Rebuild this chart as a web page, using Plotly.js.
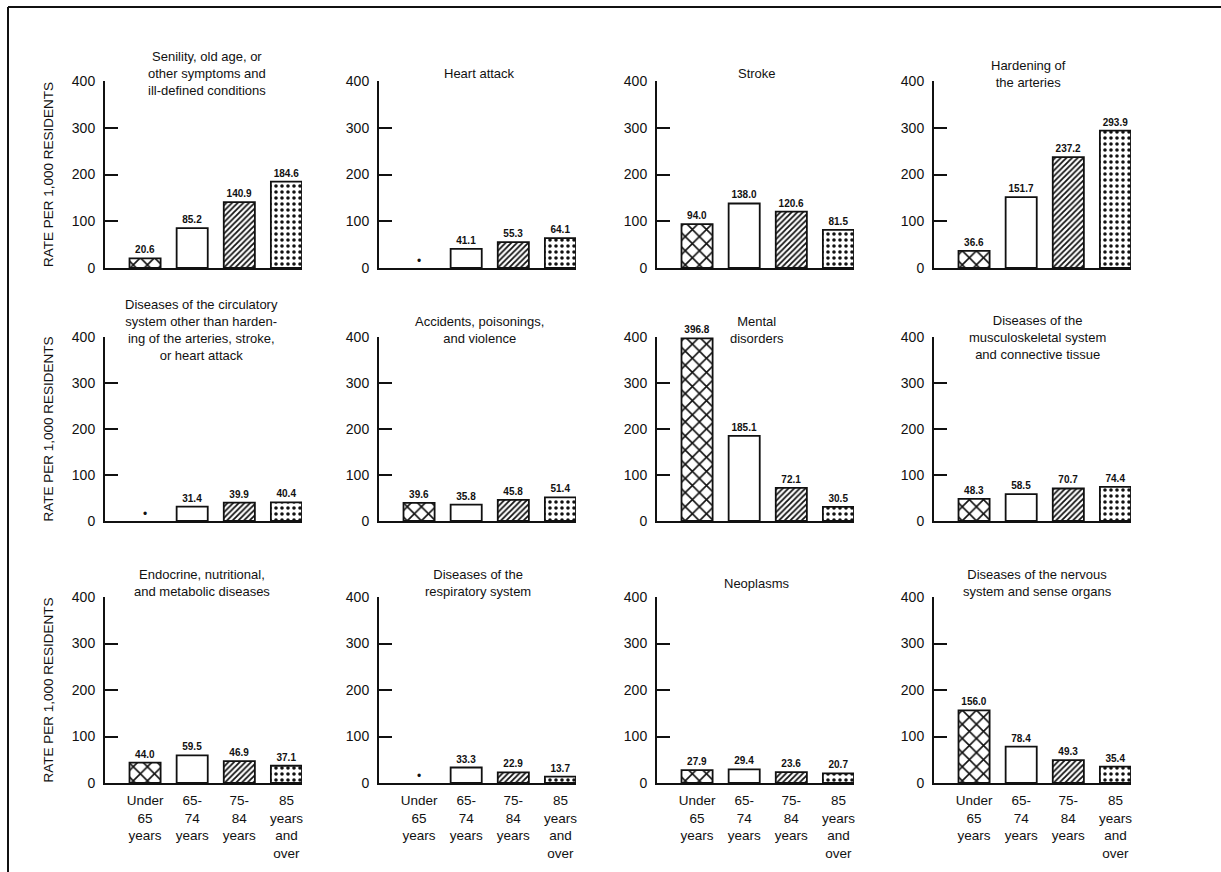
<!DOCTYPE html>
<html><head><meta charset="utf-8">
<script src="https://cdn.plot.ly/plotly-3.0.1.min.js"></script>
<style>html,body{margin:0;padding:0;background:#fff}#chart{width:1221px;height:872px}</style>
</head><body><div id="chart"></div>
<script>
// ---- data ----
const categories = ["Under 65 years", "65-74 years", "75-84 years", "85 years and over"];
const tickLabels = ["Under<br>65<br>years", "65-<br>74<br>years", "75-<br>84<br>years", "85<br>years<br>and<br>over"];
const yTicks = [0, 100, 200, 300, 400];
const yTitle = "RATE PER 1,000 RESIDENTS";

const panelTitles = [
  "Senility, old age, or<br>other symptoms and<br>ill-defined conditions",
  "Heart attack",
  "Stroke",
  "Hardening of<br>the arteries",
  "Diseases of the circulatory<br>system other than harden-<br>ing of the arteries, stroke,<br>or heart attack",
  "Accidents, poisonings,<br>and violence",
  "Mental<br>disorders",
  "Diseases of the<br>musculoskeletal system<br>and connective tissue",
  "Endocrine, nutritional,<br>and metabolic diseases",
  "Diseases of the<br>respiratory system",
  "Neoplasms",
  "Diseases of the nervous<br>system and sense organs"
];

const senility        = [20.6, 85.2, 140.9, 184.6];
const heartAttack     = [null, 41.1, 55.3, 64.1];
const stroke          = [94.0, 138.0, 120.6, 81.5];
const hardening       = [36.6, 151.7, 237.2, 293.9];
const circulatoryOther= [null, 31.4, 39.9, 40.4];
const accidents       = [39.6, 35.8, 45.8, 51.4];
const mentalDisorders = [396.8, 185.1, 72.1, 30.5];
const musculoskeletal = [48.3, 58.5, 70.7, 74.4];
const endocrine       = [44.0, 59.5, 46.9, 37.1];
const respiratory     = [null, 33.3, 22.9, 13.7];
const neoplasms       = [27.9, 29.4, 23.6, 20.7];
const nervous         = [156.0, 78.4, 49.3, 35.4];

const panelValues = [senility, heartAttack, stroke, hardening,
  circulatoryOther, accidents, mentalDisorders, musculoskeletal,
  endocrine, respiratory, neoplasms, nervous];

// ---- layout geometry (pixels) ----
const W = 1221, H = 872;
const colAxisX = [105, 379, 657, 934];
const plotW = 197;
const rowBase = [268, 521, 783];
const rowTop = [81, 337, 597];
const titleCY = [73.5, 73, 73, 74, 330, 329.5, 329.5, 337, 582.5, 582.5, 583, 582.5];
const titleCX = [207, 480, 757, 1028, 201, 480, 757, 1037, 202, 478, 757, 1037];

const FONT = "Liberation Sans, Arial, sans-serif";
const INK = "#111";

const patShape = ["x", "", "/", "."];
const patSize = [10, 8, 4, 6];
const patSolid = [0.3, 0.1, 0.45, 0.28];

const traces = [];
const layout = {
  width: W, height: H,
  margin: {l: 0, r: 0, t: 0, b: 0},
  paper_bgcolor: "#fff", plot_bgcolor: "rgba(0,0,0,0)",
  showlegend: false,
  font: {family: FONT, color: INK, size: 13},
  annotations: [],
  shapes: [
    {type: "line", xref: "paper", yref: "paper", x0: 8/W, x1: 8/W, y0: 1 - 7/H, y1: 0, line: {color: INK, width: 2}},
    {type: "line", xref: "paper", yref: "paper", x0: 8/W, x1: 1, y0: 1 - 7/H, y1: 1 - 7/H, line: {color: INK, width: 2}}
  ],
  bargap: 0
};

panelValues.forEach((vals, i) => {
  const r = Math.floor(i / 4), c = i % 4;
  const n = i + 1;
  const xa = n === 1 ? "x" : "x" + n;
  const ya = n === 1 ? "y" : "y" + n;
  const xKey = n === 1 ? "xaxis" : "xaxis" + n;
  const yKey = n === 1 ? "yaxis" : "yaxis" + n;

  traces.push({
    type: "bar", x: categories, y: vals, xaxis: xa, yaxis: ya,
    width: 0.66,
    text: vals.map(v => v == null ? "" : v.toFixed(1)),
    textposition: "outside", cliponaxis: false,
    textfont: {family: FONT, size: 10, color: INK, weight: "bold"},
    marker: {
      color: "#fff",
      line: {color: INK, width: 1.8},
      pattern: {shape: patShape, size: patSize, solidity: patSolid, fgcolor: INK, bgcolor: "#fff", fillmode: "replace"}
    },
    hoverinfo: "x+y"
  });

  const missing = categories.filter((cat, k) => vals[k] == null);
  if (missing.length) {
    traces.push({
      type: "scatter", mode: "text", x: missing, y: missing.map(() => 0),
      xaxis: xa, yaxis: ya, text: missing.map(() => "•"),
      textposition: "top center", cliponaxis: false,
      textfont: {family: FONT, size: 12, color: INK}, hoverinfo: "skip"
    });
  }

  layout[xKey] = {
    domain: [colAxisX[c] / W, (colAxisX[c] + plotW) / W],
    anchor: ya,
    type: "category", categoryarray: categories, categoryorder: "array",
    range: [-0.85, 3.33],
    showline: true, linecolor: INK, linewidth: 2,
    ticks: "", showgrid: false, zeroline: false,
    tickvals: categories, ticktext: tickLabels,
    showticklabels: r === 2,
    tickfont: {family: FONT, size: 13.5, color: INK},
    ticklabelstandoff: 4,
    fixedrange: true
  };
  layout[yKey] = {
    domain: [1 - rowBase[r] / H, 1 - rowTop[r] / H],
    anchor: xa,
    range: [0, 400],
    showline: true, linecolor: INK, linewidth: 2,
    ticks: "inside", ticklen: 13, tickwidth: 2, tickcolor: INK,
    tickvals: yTicks, ticktext: yTicks.map(String),
    tickfont: {family: FONT, size: 14, color: INK},
    ticklabelstandoff: 5,
    showgrid: false, zeroline: false, fixedrange: true,
    title: c === 0 ? {text: yTitle, font: {family: FONT, size: 13.5, color: INK}, standoff: 15} : {text: ""}
  };

  layout.annotations.push({
    xref: "paper", yref: "paper",
    x: titleCX[i] / W, y: 1 - titleCY[i] / H,
    xanchor: "center", yanchor: "middle",
    text: panelTitles[i], showarrow: false, align: "center",
    font: {family: FONT, size: 13, color: INK}
  });
});

Plotly.newPlot("chart", traces, layout, {displayModeBar: false, staticPlot: true});
</script>
</body></html>
